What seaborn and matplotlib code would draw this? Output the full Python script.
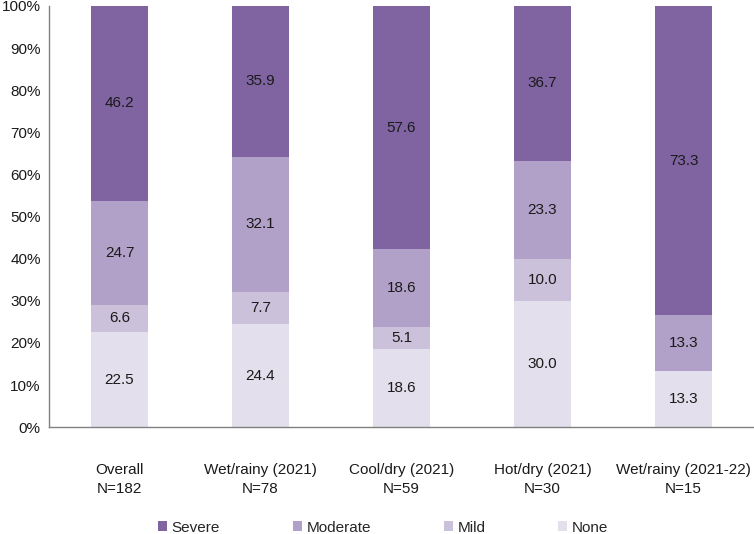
import numpy as np
import pandas as pd
import matplotlib
matplotlib.use('Agg')
import matplotlib.pyplot as plt
import seaborn as sns
from matplotlib.patches import Patch

# -------------------------------------------------------------
# DADOS
# -------------------------------------------------------------
grupos = ['Overall\nN=182', 'Wet/rainy (2021)\nN=78', 'Cool/dry (2021)\nN=59',
          'Hot/dry (2021)\nN=30', 'Wet/rainy (2021-22)\nN=15']
none_vals = [22.5, 24.4, 18.6, 30.0, 13.3]
mild_vals = [6.6, 7.7, 5.1, 10.0, 0.0]
moderate_vals = [24.7, 32.1, 18.6, 23.3, 13.3]
severe_vals = [46.2, 35.9, 57.6, 36.7, 73.3]

categorias = ['Severe', 'Moderate', 'Mild', 'None']
cores = {'Severe': '#8064A2', 'Moderate': '#B1A0C7', 'Mild': '#CCC1DA', 'None': '#E4DFEC'}

# -------------------------------------------------------------
# CONFIGURAÇÃO VISUAL
# -------------------------------------------------------------
sns.set_theme(style='white')
plt.rcParams['font.family'] = ['Liberation Sans', 'DejaVu Sans']

df = pd.DataFrame({'grupo': grupos, 'None': none_vals, 'Mild': mild_vals,
                   'Moderate': moderate_vals, 'Severe': severe_vals})
# alturas acumuladas (de baixo para cima)
df['cum_none'] = df['None']
df['cum_mild'] = df['cum_none'] + df['Mild']
df['cum_moderate'] = df['cum_mild'] + df['Moderate']
df['cum_severe'] = df['cum_moderate'] + df['Severe']

fig = plt.figure(figsize=(7.54, 5.34), dpi=100)
ax = fig.add_axes([0.065, 0.2, 0.935, 0.789])

# desenha do topo para a base, sobrepondo
for cat, col in [('Severe', 'cum_severe'), ('Moderate', 'cum_moderate'),
                 ('Mild', 'cum_mild'), ('None', 'cum_none')]:
    sns.barplot(data=df, x='grupo', y=col, color=cores[cat], width=0.4,
                saturation=1, ax=ax, linewidth=0)

# rótulos dentro dos segmentos
for i, row in df.iterrows():
    base = 0
    for cat in ['None', 'Mild', 'Moderate', 'Severe']:
        v = row[cat]
        if v > 0:
            ax.text(i, base + v / 2, f'{v:.1f}', ha='center', va='center',
                    fontsize=11, color='#1a1a1a')
        base += v

ax.set_xlim(-0.5, 4.5)
ax.set_ylim(0, 100)
ax.set_yticks(np.arange(0, 101, 10))
ax.set_yticklabels([f'{t}%' for t in range(0, 101, 10)], fontsize=11, color='#1a1a1a')
ax.tick_params(axis='x', labelsize=11, labelcolor='#1a1a1a', pad=26, length=0)
for lbl in ax.get_xticklabels():
    lbl.set_linespacing(1.45)
ax.tick_params(axis='y', length=0, pad=6)
ax.set_xlabel('')
ax.set_ylabel('')

for s in ['top', 'right']:
    ax.spines[s].set_visible(False)
for s in ['left', 'bottom']:
    ax.spines[s].set_color('#808080')
    ax.spines[s].set_linewidth(1)

handles = [Patch(facecolor=cores[c], edgecolor='none', label=c) for c in categorias]
fig.legend(handles=handles, loc='center', bbox_to_anchor=(0.508, 0.012),
           ncol=4, frameon=False, fontsize=11, handlelength=0.6, handleheight=0.6,
           handletextpad=0.3, columnspacing=4.75)

plt.savefig('out.png', dpi=100)
